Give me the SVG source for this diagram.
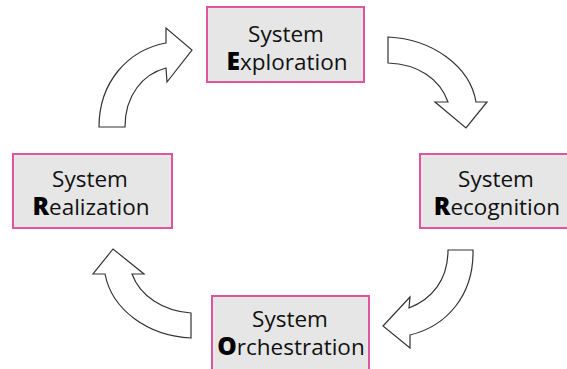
<svg xmlns="http://www.w3.org/2000/svg" width="567" height="369" viewBox="0 0 567 369">
<style>
.box{fill:#e6e6e6;stroke:#e0559f;stroke-width:2}
.lbl{font-family:"Open Sans","Noto Sans",sans-serif;font-size:22.5px;fill:#111;text-anchor:middle}
.ini{font-weight:800;font-size:24.5px;fill:#000}
.arr{fill:#fff;stroke:#333;stroke-width:1.2;stroke-linejoin:miter}
</style>
<rect width="567" height="369" fill="#fff"/>
<g id="connectors">
<path class="arr" d="M99,127 C99,82 128,50 166,43 L166,28 L192,50 L167,82 L166,68 C143,74 125,95 125,127 Z"/>
<path class="arr" d="M388,37 C432,39 470,66 476,102 L487,102 L466,128 L435,102 L448,102 C440,79 418,64 388,63 Z"/>
<path class="arr" d="M473,250 C474,295 447,326 410,335 L410,348 L383,326 L410,297 L409,308 C432,299 448,280 448,250 Z"/>
<path class="arr" d="M191,338 C148,336 112,310 105,274 L93,274 L113,249 L144,274 L132,274 C140,296 163,311 191,313 Z"/>
</g>
<g id="node-exploration">
<rect class="box" x="207" y="7" width="157" height="75"/>
<text class="lbl"><tspan x="286" y="42">System</tspan><tspan x="287" y="70"><tspan class="ini">E</tspan>xploration</tspan></text>
</g>
<g id="node-recognition">
<rect class="box" x="420" y="154" width="157" height="74"/>
<text class="lbl"><tspan x="496" y="187">System</tspan><tspan x="497" y="215"><tspan class="ini">R</tspan>ecognition</tspan></text>
</g>
<g id="node-orchestration">
<rect class="box" x="212" y="296" width="157" height="80"/>
<text class="lbl"><tspan x="290" y="327">System</tspan><tspan x="291" y="355"><tspan class="ini">O</tspan>rchestration</tspan></text>
</g>
<g id="node-realization">
<rect class="box" x="13" y="154" width="159" height="74"/>
<text class="lbl"><tspan x="90" y="187">System</tspan><tspan x="91" y="215"><tspan class="ini">R</tspan>ealization</tspan></text>
</g>
</svg>
